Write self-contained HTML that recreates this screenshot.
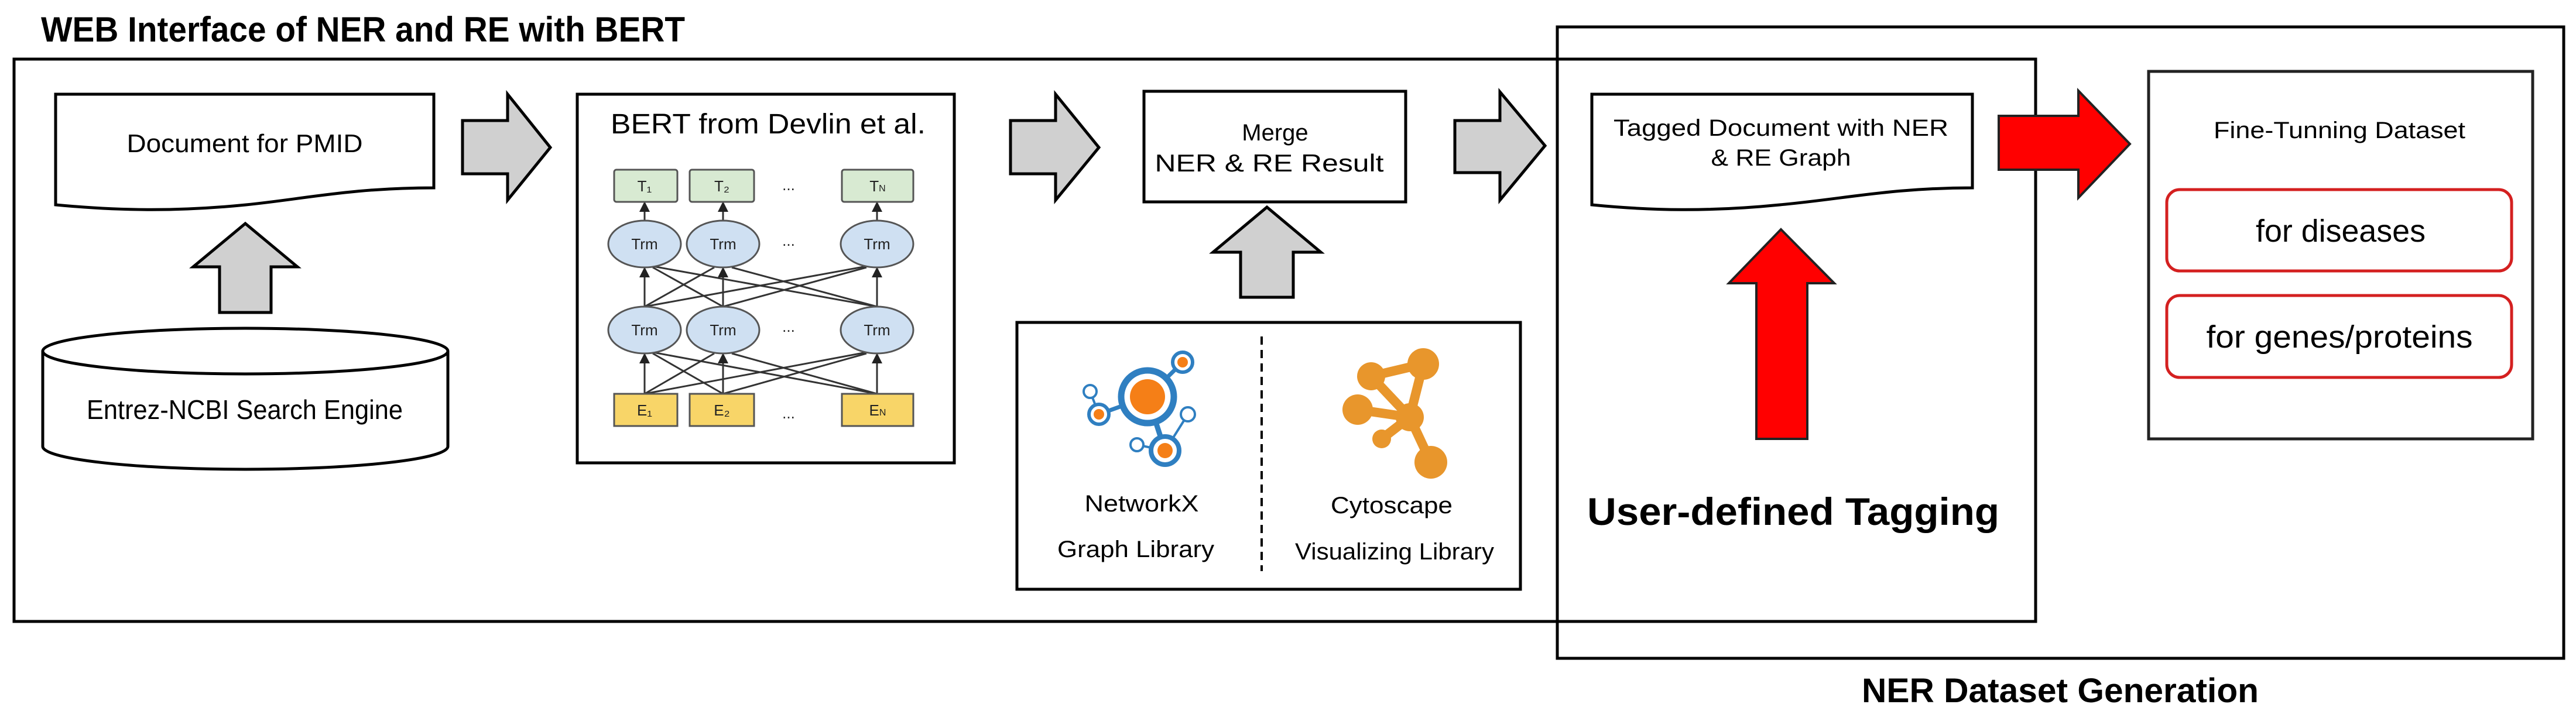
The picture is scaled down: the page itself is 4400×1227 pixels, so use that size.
<!DOCTYPE html>
<html><head><meta charset="utf-8"><style>html,body{margin:0;padding:0;background:#fff}svg{display:block}</style></head>
<body>
<svg width="4400" height="1227" viewBox="0 0 4400 1227" xmlns="http://www.w3.org/2000/svg" font-family="Liberation Sans, sans-serif">
<defs>
<marker id="ah" markerWidth="6" markerHeight="6" refX="5" refY="3" orient="auto"><path d="M0,0 L6,3 L0,6 z" fill="#222"/></marker>
</defs>
<rect width="4400" height="1227" fill="#fff"/>
<!-- title -->
<text x="70" y="71" font-size="60" font-weight="bold" textLength="1100" lengthAdjust="spacingAndGlyphs">WEB Interface of NER and RE with BERT</text>
<!-- outer box -->
<rect x="24" y="101" width="3453" height="961" fill="none" stroke="#000" stroke-width="5"/>
<!-- NER dataset box -->
<rect x="2660" y="46" width="1719" height="1079" fill="none" stroke="#000" stroke-width="5"/>
<text x="3519" y="1200" font-size="58" font-weight="bold" text-anchor="middle" textLength="678" lengthAdjust="spacingAndGlyphs">NER Dataset Generation</text>

<!-- Document for PMID -->
<path d="M95,161 L741,161 L741,321 C600,321 520,340 420,350 C300,362 200,360 95,350 Z" fill="#fff" stroke="#000" stroke-width="5"/>
<text x="418" y="260" font-size="44" text-anchor="middle" textLength="403" lengthAdjust="spacingAndGlyphs">Document for PMID</text>
<!-- up arrow gray -->
<path d="M375,534 L375,456 L330,456 L419,382 L508,456 L463,456 L463,534 Z" fill="#d0d0d0" stroke="#000" stroke-width="5"/>
<!-- cylinder -->
<path d="M73,600 L73,763 A346,39 0 0 0 765,763 L765,600" fill="#fff" stroke="#000" stroke-width="5"/>
<ellipse cx="419" cy="600" rx="346" ry="39" fill="#fff" stroke="#000" stroke-width="5"/>
<text x="418" y="716" font-size="46" text-anchor="middle" textLength="540" lengthAdjust="spacingAndGlyphs">Entrez-NCBI Search Engine</text>

<!-- arrows gray -->
<path d="M790,206 L867,206 L867,161 L940,252 L867,342 L867,297 L790,297 Z" fill="#d0d0d0" stroke="#000" stroke-width="5"/>
<path d="M1726,206 L1803,206 L1803,161 L1877,252 L1803,342 L1803,297 L1726,297 Z" fill="#d0d0d0" stroke="#000" stroke-width="5"/>
<path d="M2485,206 L2562,206 L2562,157 L2639,249 L2562,342 L2562,295 L2485,295 Z" fill="#d0d0d0" stroke="#000" stroke-width="5"/>

<!-- BERT box -->
<rect x="986" y="161" width="644" height="630" fill="#fff" stroke="#000" stroke-width="5"/>
<text x="1312" y="228" font-size="48" text-anchor="middle" textLength="538" lengthAdjust="spacingAndGlyphs">BERT from Devlin et al.</text>
<g stroke="#333" stroke-width="3" fill="none">
<line x1="1101" y1="673" x2="1101" y2="606" marker-end="url(#ah)"/>
<line x1="1235" y1="673" x2="1235" y2="606" marker-end="url(#ah)"/>
<line x1="1498" y1="673" x2="1498" y2="606" marker-end="url(#ah)"/>
<line x1="1101" y1="673" x2="1220" y2="604"/><line x1="1101" y1="673" x2="1480" y2="602"/>
<line x1="1235" y1="673" x2="1115" y2="604"/><line x1="1235" y1="673" x2="1480" y2="604"/>
<line x1="1498" y1="673" x2="1115" y2="602"/><line x1="1498" y1="673" x2="1250" y2="604"/>
<line x1="1101" y1="524" x2="1101" y2="459" marker-end="url(#ah)"/>
<line x1="1235" y1="524" x2="1235" y2="459" marker-end="url(#ah)"/>
<line x1="1498" y1="524" x2="1498" y2="459" marker-end="url(#ah)"/>
<line x1="1101" y1="524" x2="1220" y2="457"/><line x1="1101" y1="524" x2="1480" y2="455"/>
<line x1="1235" y1="524" x2="1115" y2="457"/><line x1="1235" y1="524" x2="1480" y2="457"/>
<line x1="1498" y1="524" x2="1115" y2="455"/><line x1="1498" y1="524" x2="1250" y2="457"/>
<line x1="1101" y1="377" x2="1101" y2="347" marker-end="url(#ah)"/>
<line x1="1235" y1="377" x2="1235" y2="347" marker-end="url(#ah)"/>
<line x1="1498" y1="377" x2="1498" y2="347" marker-end="url(#ah)"/>
</g>
<g stroke="#555" stroke-width="3" font-size="26" text-anchor="middle">
<rect x="1049" y="290" width="108" height="55" rx="4" fill="#d8ead2"/>
<rect x="1178" y="290" width="110" height="55" rx="4" fill="#d8ead2"/>
<rect x="1438" y="290" width="122" height="55" rx="4" fill="#d8ead2"/>
<ellipse cx="1101" cy="417" rx="62" ry="40" fill="#cfe0f2"/>
<ellipse cx="1235" cy="417" rx="62" ry="40" fill="#cfe0f2"/>
<ellipse cx="1498" cy="417" rx="62" ry="40" fill="#cfe0f2"/>
<ellipse cx="1101" cy="564" rx="62" ry="40" fill="#cfe0f2"/>
<ellipse cx="1235" cy="564" rx="62" ry="40" fill="#cfe0f2"/>
<ellipse cx="1498" cy="564" rx="62" ry="40" fill="#cfe0f2"/>
<rect x="1049" y="673" width="108" height="55" fill="#f8d568"/>
<rect x="1178" y="673" width="110" height="55" fill="#f8d568"/>
<rect x="1438" y="673" width="122" height="55" fill="#f8d568"/>
</g>
<g font-size="26" text-anchor="middle" fill="#222">
<text x="1101" y="327">T₁</text><text x="1233" y="327">T₂</text><text x="1499" y="327">T<tspan font-size="16">N</tspan></text>
<text x="1101" y="426">Trm</text><text x="1235" y="426">Trm</text><text x="1498" y="426">Trm</text>
<text x="1101" y="573">Trm</text><text x="1235" y="573">Trm</text><text x="1498" y="573">Trm</text>
<text x="1101" y="710">E₁</text><text x="1233" y="710">E₂</text><text x="1499" y="710">E<tspan font-size="16">N</tspan></text>
<text x="1347" y="325">...</text><text x="1347" y="420">...</text><text x="1347" y="567">...</text><text x="1347" y="715">...</text>
</g>

<!-- Merge -->
<rect x="1954" y="156" width="447" height="189" fill="#fff" stroke="#000" stroke-width="5"/>
<text x="2178" y="240" font-size="40" text-anchor="middle">Merge</text>
<text x="2168" y="293" font-size="42" text-anchor="middle" textLength="391" lengthAdjust="spacingAndGlyphs">NER &amp; RE Result</text>
<path d="M2119,508 L2119,431 L2072,431 L2164,354 L2256,431 L2209,431 L2209,508 Z" fill="#d0d0d0" stroke="#000" stroke-width="5"/>

<!-- libraries box -->
<rect x="1737" y="551" width="860" height="456" fill="#fff" stroke="#000" stroke-width="5"/>
<line x1="2155" y1="575" x2="2155" y2="976" stroke="#000" stroke-width="4" stroke-dasharray="14,9"/>
<!-- networkx icon -->
<g stroke="#2f7fc1" fill="none">
<line x1="1960" y1="678" x2="2020" y2="619" stroke-width="7"/>
<line x1="1960" y1="678" x2="1877" y2="708" stroke-width="7"/>
<line x1="1877" y1="708" x2="1862" y2="669" stroke-width="4"/>
<line x1="1960" y1="678" x2="1990" y2="770" stroke-width="9"/>
<line x1="1990" y1="770" x2="2029" y2="708" stroke-width="4"/>
<line x1="1990" y1="770" x2="1942" y2="760" stroke-width="4"/>
<circle cx="1960" cy="678" r="45" fill="#fff" stroke-width="11"/>
<circle cx="2020" cy="619" r="17" fill="#fff" stroke-width="6"/>
<circle cx="1877" cy="708" r="17" fill="#fff" stroke-width="6"/>
<circle cx="1990" cy="770" r="24" fill="#fff" stroke-width="8"/>
<circle cx="1862" cy="669" r="11" fill="#fff" stroke-width="4"/>
<circle cx="2029" cy="708" r="12" fill="#fff" stroke-width="4"/>
<circle cx="1942" cy="760" r="11" fill="#fff" stroke-width="4"/>
</g>
<g fill="#f57f17">
<circle cx="1960" cy="678" r="30"/><circle cx="2020" cy="619" r="9"/><circle cx="1877" cy="708" r="9"/><circle cx="1990" cy="770" r="13"/>
</g>
<!-- cytoscape icon -->
<g stroke="#e8962c" stroke-width="16" fill="#e8962c">
<line x1="2342" y1="643" x2="2431" y2="622"/><line x1="2342" y1="643" x2="2408" y2="713"/>
<line x1="2431" y1="622" x2="2408" y2="713"/><line x1="2319" y1="700" x2="2408" y2="713"/>
<line x1="2360" y1="750" x2="2408" y2="713"/><line x1="2444" y1="790" x2="2408" y2="713"/>
<circle cx="2342" cy="643" r="24" stroke="none"/><circle cx="2431" cy="622" r="27" stroke="none"/>
<circle cx="2319" cy="700" r="26" stroke="none"/><circle cx="2408" cy="713" r="24" stroke="none"/>
<circle cx="2360" cy="750" r="16" stroke="none"/><circle cx="2444" cy="790" r="28" stroke="none"/>
</g>
<g font-size="40" text-anchor="middle">
<text x="1950" y="874" textLength="195" lengthAdjust="spacingAndGlyphs">NetworkX</text>
<text x="1940" y="952" textLength="268" lengthAdjust="spacingAndGlyphs">Graph Library</text>
<text x="2377" y="877" textLength="208" lengthAdjust="spacingAndGlyphs">Cytoscape</text>
<text x="2382" y="956" textLength="340" lengthAdjust="spacingAndGlyphs">Visualizing Library</text>
</g>

<!-- Tagged document -->
<path d="M2719,161 L3369,161 L3369,321 C3230,321 3150,340 3040,350 C2920,362 2820,360 2719,350 Z" fill="#fff" stroke="#000" stroke-width="5"/>
<text x="3042" y="232" font-size="40" text-anchor="middle" textLength="572" lengthAdjust="spacingAndGlyphs">Tagged Document with NER</text>
<text x="3042" y="283" font-size="40" text-anchor="middle" textLength="239" lengthAdjust="spacingAndGlyphs">&amp; RE Graph</text>
<!-- red arrows -->
<path d="M3414,198 L3550,198 L3550,155 L3638,246 L3550,338 L3550,290 L3414,290 Z" fill="#ff0000" stroke="#222" stroke-width="4"/>
<path d="M3000,750 L3000,484 L2953,484 L3042,392 L3133,484 L3087,484 L3087,750 Z" fill="#ff0000" stroke="#222" stroke-width="4"/>
<text x="3063" y="897" font-size="66" font-weight="bold" text-anchor="middle" textLength="704" lengthAdjust="spacingAndGlyphs">User-defined Tagging</text>

<!-- Fine tuning -->
<rect x="3670" y="122" width="656" height="628" fill="#fff" stroke="#222" stroke-width="5"/>
<text x="3996" y="236" font-size="40" text-anchor="middle" textLength="430" lengthAdjust="spacingAndGlyphs">Fine-Tunning Dataset</text>
<rect x="3701" y="324" width="589" height="139" rx="22" fill="#fff" stroke="#d42020" stroke-width="5"/>
<rect x="3701" y="505" width="589" height="140" rx="22" fill="#fff" stroke="#d42020" stroke-width="5"/>
<text x="3998" y="413" font-size="54" text-anchor="middle" textLength="290" lengthAdjust="spacingAndGlyphs">for diseases</text>
<text x="3996" y="594" font-size="54" text-anchor="middle" textLength="455" lengthAdjust="spacingAndGlyphs">for genes/proteins</text>
</svg>
</body></html>
